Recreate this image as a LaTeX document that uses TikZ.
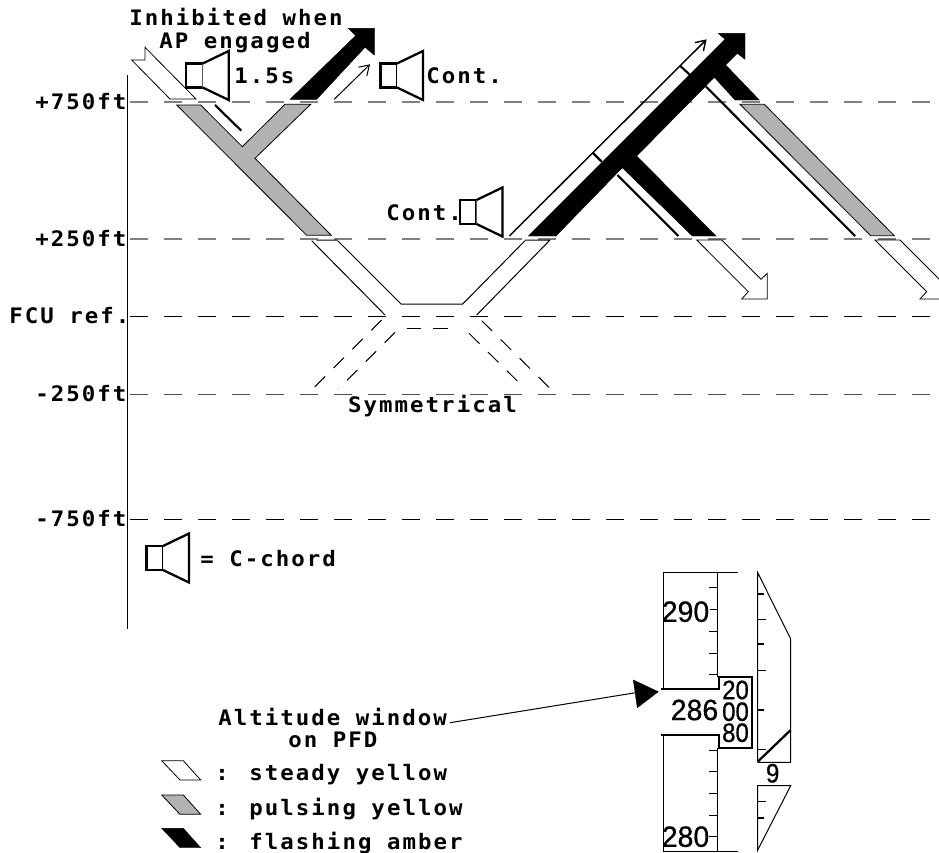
\documentclass[tikz,border=0pt]{standalone}
\usepackage{fontspec}
\usetikzlibrary{arrows.meta}
\newfontfamily\labfont[LetterSpace=9.5,FakeStretch=1.05]{DejaVu Sans Mono Bold}
\newfontfamily\pfdfont[FakeStretch=0.97,FakeBold=0.7]{Liberation Sans}
\newfontfamily\pfdsmall[FakeStretch=0.9,FakeBold=0.7]{Liberation Sans}
\tikzset{
  lab/.style={inner sep=0pt,anchor=base west,font=\labfont\fontsize{16pt}{18pt}\selectfont},
  labc/.style={inner sep=0pt,anchor=base,font=\labfont\fontsize{16pt}{18pt}\selectfont},
  num/.style={inner sep=0pt,anchor=center,font=\pfdfont\fontsize{22pt}{21pt}\selectfont},
  numsm/.style={inner sep=0pt,anchor=center,font=\pfdsmall\fontsize{20pt}{19pt}\selectfont},
  thin line/.style={line width=0.75pt,line join=miter},
  heavy/.style={line width=1.6pt},
  speaker/.style={line width=1.7pt,fill=white},
  altline/.style={line width=0.9pt,dash pattern=on 13.5pt off 12pt},
  altthin/.style={line width=0.75pt,dash pattern=on 13.5pt off 12pt},
  steady/.style={draw=black,line width=0.6pt,fill=white},
  pulsing/.style={draw=black,line width=0.6pt,fill=black!30},
  flashing/.style={draw=black,line width=0.3pt,fill=black},
  x=0.75pt,y=-0.75pt
}
\newcommand{\spk}[2]{%
  \draw[speaker] (#1-16.5,#2-12) rectangle (#1,#2+12);
  \draw[speaker] (#1,#2-12) -- (#1+26,#2-24.5) -- (#1+26,#2+24.5) -- (#1,#2+12);
}
\begin{document}
\begin{tikzpicture}
\useasboundingbox (0,0) rectangle (939,853);
% altitude lines
\draw[altline,black!50] (130,102) -- (934,102);
\draw[altline,black!50] (130,239) -- (934,239);
\draw[altthin] (130,316) -- (934,316);
\draw[altthin,black!70] (130,394) -- (934,394);
\draw[altthin] (130,519) -- (934,519);
\draw[thin line] (127.5,75) -- (127.5,629);
% altitude labels
\node[lab] (l750) at (35,109.5) {+750ft};
\node[lab] (l250) at (35,246.5) {+250ft};
\node[lab] (lfcu) at (9,323.5) {FCU ref.};
\node[lab] (lm250) at (35,401.5) {-250ft};
\node[lab] (lm750) at (35,526.5) {-750ft};
% top left
\node[labc] (inh) at (236,25) {Inhibited when};
\node[labc] (ap) at (235,48) {AP engaged};
\draw[steady] (131.7,60) -- (145,60) -- (145,47.3) -- (196,99) -- (170,99) -- cycle;
\spk{202.7}{75.5}
\node[lab] (t15) at (234,83) {1.5s};
\draw[pulsing] (176.7,105) -- (200.7,105) -- (242.3,146.7) -- (285,104.3) -- (310.7,104.3) -- (255,158.3) -- (331.3,235.3) -- (306.7,235.3) -- cycle;
\draw[heavy] (215,105) -- (241.3,130.7);
\draw[flashing] (290,99.3) -- (355.7,35.7) -- (348.3,28.3) -- (374.3,28.3) -- (374.3,55) -- (365,47.3) -- (316.7,99.3) -- cycle;
\draw[thin line,-{Straight Barb[length=7pt,width=9pt]}] (334.3,99.3) -- (370,64.3);
\spk{397}{75.5}
\node[lab] (c1) at (426,83) {Cont.};
% middle
\draw[thin line] (316.7,240) -- (337.7,240) (311.7,240.7) -- (385,315);
\draw[thin line] (337.7,240.7) -- (401,304) -- (462.7,304) -- (525,240.7);
\draw[thin line] (525,240) -- (550,240) -- (476.7,315);
\draw[thin line,dash pattern=on 11pt off 9pt] (381.7,320) -- (312.3,389.3);
\draw[thin line,dash pattern=on 11pt off 9pt] (395,332.3) -- (338.3,389);
\draw[thin line,dash pattern=on 11pt off 9pt] (406.7,328.3) -- (456.7,328.3);
\draw[thin line,dash pattern=on 11pt off 9pt] (469,333.3) -- (525.7,389.3);
\draw[thin line,dash pattern=on 11pt off 9pt] (481.7,320.7) -- (551,389.3);
\node[labc] (sym) at (432.5,412) {Symmetrical};
\spk{476.5}{212}
\node[lab] (c2) at (386,220) {Cont.};
% right
\draw[line width=1.1pt,-{Straight Barb[length=7pt,width=9pt]}] (509.3,236) -- (706.7,39.3);
\draw[heavy] (592.7,152.7) -- (601.7,161.7);
\draw[heavy] (680,65.7) -- (690,75);
\draw[flashing] (528.3,236) -- (725,39.3) -- (718.3,33.3) -- (745,33.3) -- (745,59.3) -- (737.3,53.3) -- (725.7,65) -- (759.3,100) -- (735,100) -- (714.3,77.3) -- (636.7,156) -- (716,236) -- (692.3,236) -- (622.3,167.7) -- (556,236) -- cycle;
\draw[heavy] (617.3,175) -- (678.3,236);
\draw[heavy] (706,86.7) -- (855,236);
\draw[pulsing] (740,104.3) -- (764.3,104.3) -- (894.3,235.7) -- (870.7,235.7) -- cycle;
\draw[steady] (696.7,240) -- (721.7,240) -- (761,279.3) -- (767.3,273.3) -- (767.3,299) -- (741.7,299) -- (748.3,291.7) -- cycle;
\draw[steady] (875,240) -- (900,240) -- (939.3,279.3) -- (945.6,273.3) -- (945.6,299) -- (920,299) -- (926.7,291.7) -- cycle;
% C-chord legend
\spk{163}{558}
\node[lab] (cc) at (200,566) {= C-chord};
% PFD tape
\draw[thin line] (738.3,572.7) -- (663.3,572.7) -- (663.3,689);
\draw[thin line] (717,572.7) -- (717,676.7);
\foreach \yy in {587.7,631.3,653,674.7} \draw[thin line] (709.3,\yy) -- (717,\yy);
\draw[thin line] (710,609) -- (717,609);
\draw[heavy] (661,689) -- (719,689) -- (719,676.7) -- (751.7,676.7) -- (751.7,747.7) -- (719,747.7) -- (719,735) -- (661,735);
\draw[thin line] (663.3,735) -- (663.3,851.7) -- (737.7,851.7);
\draw[thin line] (717,747.7) -- (717,851.7);
\foreach \yy in {750,771.7,793.3,815,836.3} \draw[thin line] (709.3,\yy) -- (717,\yy);
\node[num] (n290) at (685.5,611.7) {290};
\node[num] (n286) at (694.5,710) {286};
\node[num] (n280) at (685.5,836.7) {280};
\node[numsm] (n20) at (735.5,690) {20};
\node[numsm] (n00) at (735.5,711.7) {00};
\node[numsm] (n80) at (735.5,732.7) {80};
\node[numsm] (n9) at (772.7,773.3) {9};
% right scale
\draw[thin line] (757.7,761.7) -- (757.7,572.7) -- (790.7,639) -- (790.7,762.3) -- (757.7,762.3);
\draw[line width=1.7pt] (757.7,761.7) -- (790.7,730);
\foreach \yy in {594.3,644.3,710.3} \draw[line width=1.5pt] (757.7,\yy) -- (764,\yy);
\foreach \yy in {619,670.7,749.3} \draw[thin line] (757.7,\yy) -- (765.7,\yy);
\draw[thin line] (757.7,850) -- (757.7,785.7) -- (790.7,785.7) -- cycle;
\draw[thin line] (757.7,801) -- (765.7,801);
\draw[line width=1.5pt] (757.7,817.7) -- (764,817.7);
% altitude window label
\node[lab] (alt) at (218,725) {Altitude window};
\node[lab] (pfd) at (288,747) {on PFD};
\coordinate (wtip) at (640,692);
\draw[thin line] (450,722.7) -- (wtip);
\draw[fill=black,line width=0.3pt] (633.3,680) -- (658.3,691.7) -- (637.3,707.7) -- cycle;
% legend
\draw[steady] (161.7,760.7) -- (183.3,760.7) -- (200.7,780) -- (180,780) -- cycle;
\draw[pulsing] (161.7,795) -- (183.3,795) -- (200.7,814.3) -- (180,814.3) -- cycle;
\draw[flashing] (161.7,828.3) -- (183.3,828.3) -- (200.7,847.7) -- (180,847.7) -- cycle;
\node[lab] (s1) at (215,780) {: steady yellow};
\node[lab] (s2) at (215,815) {: pulsing yellow};
\node[lab] (s3) at (215,849) {: flashing amber};
\end{tikzpicture}
\end{document}
